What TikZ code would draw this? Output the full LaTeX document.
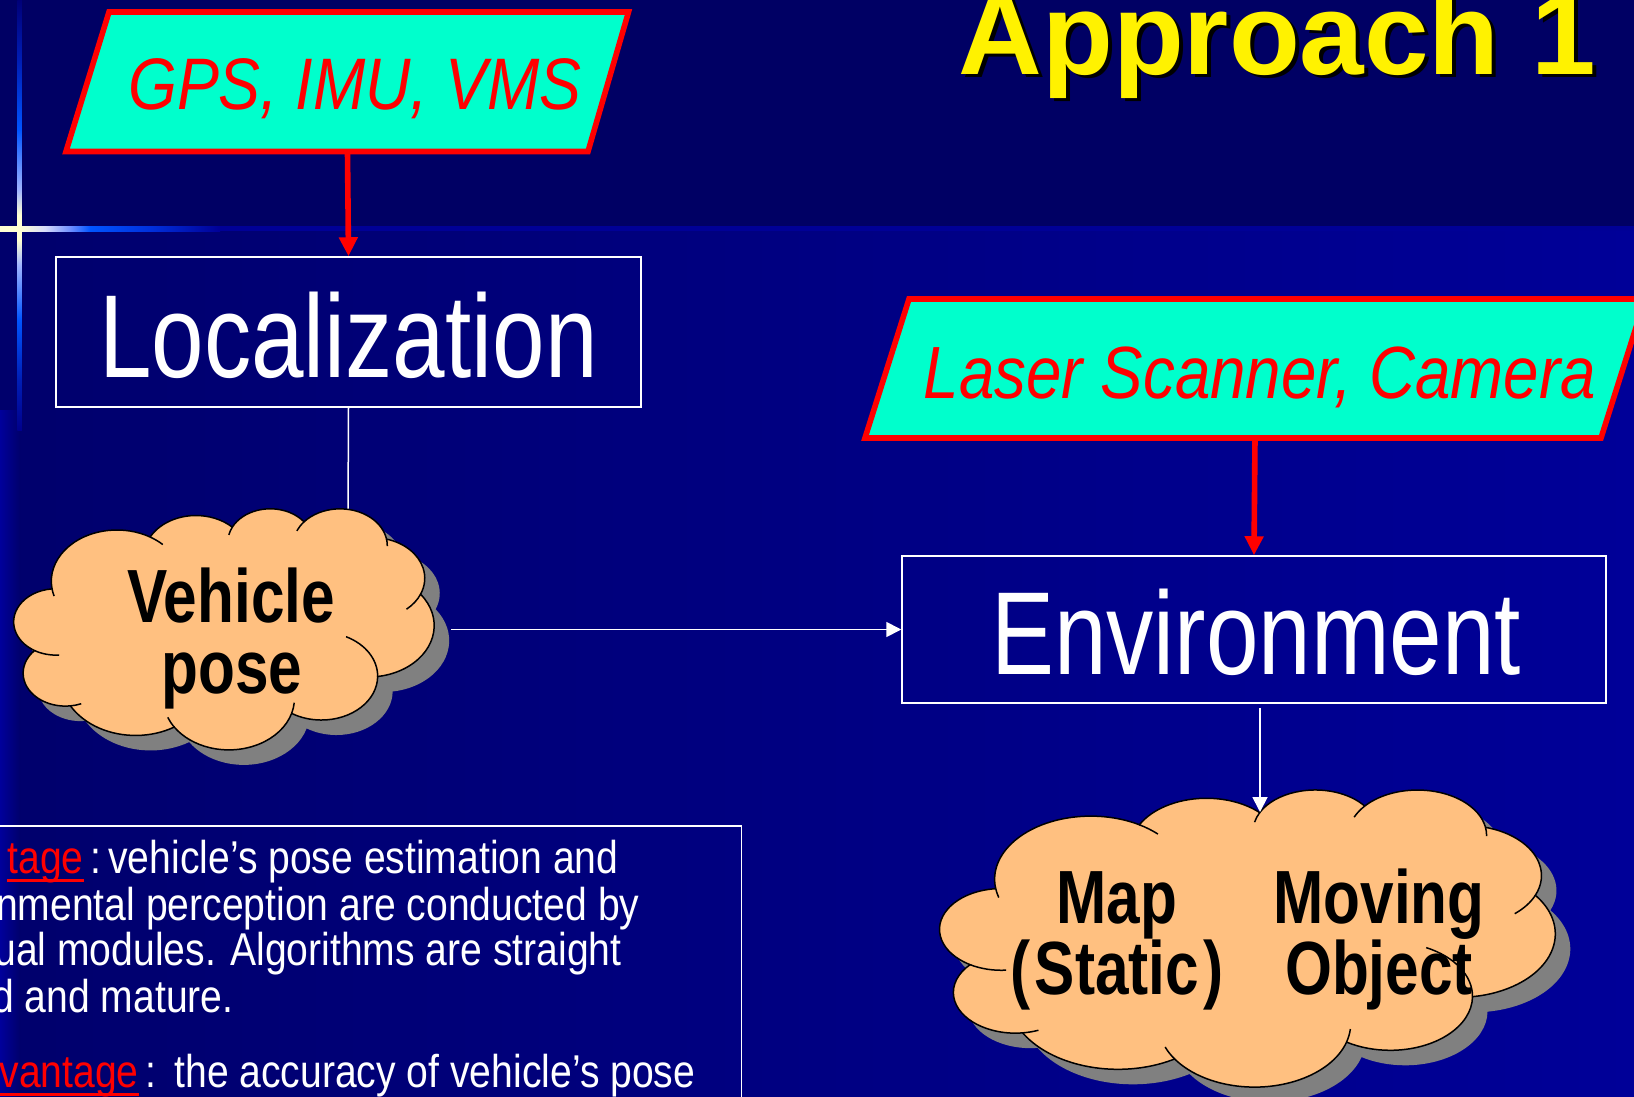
\documentclass[tikz,border=0pt]{standalone}
\usepackage{fontspec}
\setmainfont{Liberation Sans}
\newfontfamily\fnBox{Liberation Sans}[FakeStretch=0.80]
\newfontfamily\fnIt{Liberation Sans}[FakeStretch=0.86]
\newfontfamily\fnCloud{Liberation Sans}[FakeStretch=0.80]
\newfontfamily\fnNar{Liberation Sans}[FakeStretch=0.85]
\usetikzlibrary{arrows.meta}

\definecolor{bgtop}{RGB}{0,0,100}
\definecolor{bgleft}{RGB}{0,0,108}
\definecolor{bgright}{RGB}{0,0,152}
\definecolor{stripblue}{RGB}{0,0,155}
\definecolor{faintline}{RGB}{0,0,150}
\definecolor{aqua}{RGB}{0,255,204}
\definecolor{cloudfill}{RGB}{255,192,128}
\definecolor{shadowgray}{RGB}{128,128,128}
\definecolor{glowyel}{RGB}{255,255,210}
\definecolor{glowpale}{RGB}{215,220,250}
\definecolor{glowlb}{RGB}{112,144,255}
\definecolor{glowbb}{RGB}{0,85,255}
\definecolor{glowmb}{RGB}{0,48,220}
\definecolor{glowend}{RGB}{0,0,150}
\definecolor{vdark}{RGB}{0,0,140}
\definecolor{vdarktop}{RGB}{0,0,120}
\definecolor{vmid}{RGB}{0,30,180}
\definecolor{vlb}{RGB}{160,180,255}

\pgfdeclarehorizontalshading{hglow}{100bp}{color(0bp)=(glowyel); color(29.5bp)=(glowyel); color(35.2bp)=(glowpale); color(40.9bp)=(glowlb); color(45.5bp)=(glowbb); color(59.1bp)=(glowmb); color(75bp)=(glowend); color(100bp)=(glowend)}
\pgfdeclareverticalshading{vglow}{100bp}{color(0bp)=(vdark); color(25bp)=(vdark); color(30.8bp)=(vmid); color(37.8bp)=(glowbb); color(44.2bp)=(vlb); color(47.1bp)=(glowyel); color(50bp)=(glowyel); color(52.9bp)=(vlb); color(59.9bp)=(glowbb); color(68bp)=(vmid); color(75bp)=(vdarktop); color(100bp)=(vdarktop)}

\newsavebox\ulbox
\newcommand\redul[1]{\sbox\ulbox{#1}\rlap{\rule[-4.3pt]{\wd\ulbox}{1.3pt}}\usebox\ulbox}

\tikzset{
 cloudpath/.style={insert path={(39,143.7)
  arc[start angle=-187.745,end angle=-59.63,x radius=67.53,y radius=91.90]
  arc[start angle=-152.02,end angle=-45.45,x radius=53.33,y radius=72.67]
  arc[start angle=-153.49,end angle=-37.33,x radius=43.65,y radius=59.45]
  arc[start angle=-139.72,end angle=-10.21,x radius=48.57,y radius=65.95]
  arc[start angle=-74.77,end angle=23.21,x radius=53.33,y radius=72.73]
  arc[start angle=-37.53,end angle=81.86,x radius=67.75,y radius=92.20]
  arc[start angle=0.46,end angle=121.97,x radius=57.85,y radius=78.67]
  arc[start angle=16.84,end angle=146.24,x radius=67.52,y radius=92.15]
  arc[start angle=58.99,end angle=150.19,x radius=77.20,y radius=105.43]
  arc[start angle=-276.69,end angle=-136.90,x radius=43.60,y radius=59.18]
  arc[start angle=-239.64,end angle=-95.89,x radius=43.45,y radius=59.45]
  -- cycle}},
 cloudinner/.style={insert path={
  (43.09,204.23) ++(85.54:43.45 and 59.45) arc[start angle=85.54,end angle=120.36,x radius=43.45,y radius=59.45]
  (52.98,295.94) ++(68.23:43.60 and 59.18) arc[start angle=68.23,end angle=83.31,x radius=43.60,y radius=59.18]
  (220.95,341.46) ++(146.24:67.52 and 92.15) arc[start angle=146.24,end angle=158.47,x radius=67.52,y radius=92.15]
  (220.95,341.46) ++(4.73:67.52 and 92.15) arc[start angle=4.73,end angle=16.84,x radius=67.52,y radius=92.15]
  (316.20,301.42) ++(-64.03:57.85 and 78.67) arc[start angle=-64.03,end angle=0.46,x radius=57.85,y radius=78.67]
  (369.18,125.96) ++(23.21:53.33 and 72.73) arc[start angle=23.21,end angle=49.65,x radius=53.33,y radius=72.73]
  (335.39,67.47) ++(-10.21:48.57 and 65.95) arc[start angle=-10.21,end angle=0.82,x radius=48.57,y radius=65.95]
  (335.39,67.47) ++(-156.30:48.57 and 65.95) arc[start angle=-156.30,end angle=-139.72,x radius=48.57,y radius=65.95]
  (263.63,60.88) ++(-167.72:43.65 and 59.45) arc[start angle=-167.72,end angle=-153.49,x radius=43.65,y radius=59.45]
  (105.91,131.32) ++(-59.63:67.53 and 91.90) arc[start angle=-59.63,end angle=-45.74,x radius=67.53,y radius=91.90]
  (105.91,131.32) ++(163.19:67.53 and 91.90) arc[start angle=163.19,end angle=172.26,x radius=67.53,y radius=91.90]
 }},
 cloudline/.style={draw=black, line width=0.75pt},
 whitebox/.style={draw=white, line width=0.75pt, inner sep=0},
 redarrow/.style={draw=red, line width=2.8pt, -{Triangle[length=9.5pt,width=9pt]}},
 whitearrow/.style={draw=white, line width=0.9pt, -{Triangle[length=7.5pt,width=7.5pt]}},
 inputshape/.style={fill=aqua, draw=red, line width=2.8pt, line join=miter},
 boxlabel/.style={anchor=base, inner sep=0, text=white, font=\fnBox\fontsize{59pt}{59pt}\selectfont},
 inputlabel/.style={anchor=base, inner sep=0, text=red},
 cloudlabel/.style={anchor=base, inner sep=0, text=black, font=\fnCloud\bfseries\fontsize{37.7pt}{37.7pt}\selectfont},
 bodytext/.style={inner sep=0, text=white, font=\fnNar\fontsize{23pt}{23pt}\selectfont},
 titletext/.style={anchor=base west, inner sep=0, font=\bfseries\fontsize{58pt}{58pt}\selectfont}
}

\begin{document}
\begin{tikzpicture}[x=0.5pt, y=-0.5pt]
\useasboundingbox (0,0) rectangle (1634,1097);
\clip (0,0) rectangle (1634,1097);

% background
\fill[bgtop] (0,0) rectangle (1634,229);
\shade[left color=bgleft, right color=bgright] (0,229) rectangle (1634,1097);
\shade[left color=stripblue, right color=bgleft] (0,410) rectangle (20,1097);
\fill[faintline] (0,226) rectangle (1634,231);
\shade[shading=hglow] (0,226) rectangle (220,231);
\shade[shading=vglow] (17.3,0) rectangle (21.8,430);

% title
\node[titletext, text=black] (titleshadow) at (962,78) {Approach 1};
\node[titletext, text=yellow] (title) at (958,75) {Approach 1};

% boxes
\node[whitebox, minimum width=292.5pt, minimum height=75pt] (loc) at (348.5,332) {};
\node[whitebox, minimum width=352pt, minimum height=73.5pt] (env) at (1254,629.5) {};
\node[boxlabel] (loclabel) at (348.5,377) {Localization};
\node[boxlabel] (envlabel) at (1256,674) {Environment};

% input parallelograms
\node[inner sep=0, minimum width=200pt, minimum height=69.75pt] (gps) at (347.5,81.75) {};
\node[inner sep=0, minimum width=300pt, minimum height=69.5pt] (laser) at (1255,368.5) {};
\draw[redarrow] (gps.south) -- (loc.north);
\draw[redarrow] (laser.south) -- (env.north);
\filldraw[inputshape] (109,12) -- (628.5,12) -- (588,151.5) -- (66,151.5) -- cycle;
\filldraw[inputshape] (909,299) -- (1645,299) -- (1601,438) -- (865,438) -- cycle;
\node[inputlabel, font=\fnIt\itshape\fontsize{36.5pt}{36.5pt}\selectfont] (gpslabel) at (355,110) {GPS, IMU, VMS};
\node[inputlabel, font=\fnIt\itshape\fontsize{37pt}{37pt}\selectfont] (laserlabel) at (1260,398) {Laser Scanner, Camera};

% connector localization -> vehicle pose
\coordinate (vptop) at (348,515);
\draw[white, line width=0.75pt] (loc.south) -- (vptop);

% vehicle pose cloud
\begin{scope}[shift={(14.5pt,-261.5pt)}, x=0.48611pt, y=-0.278935pt]
  \fill[shadowgray, cloudpath];
\end{scope}
\begin{scope}[shift={(7pt,-254pt)}, x=0.48611pt, y=-0.278935pt]
  \filldraw[fill=cloudfill, cloudline, cloudpath];
  \draw[cloudline, cloudinner];
\end{scope}
\node[cloudlabel] (vp1) at (231,622) {Vehicle};
\node[cloudlabel] (vp2) at (232,693) {pose};

% map / moving object cloud
\begin{scope}[shift={(477.5pt,-402pt)}, x=0.71181pt, y=-0.34375pt]
  \fill[shadowgray, cloudpath];
\end{scope}
\begin{scope}[shift={(470pt,-394.5pt)}, x=0.71181pt, y=-0.34375pt]
  \filldraw[fill=cloudfill, cloudline, cloudpath];
  \draw[cloudline, cloudinner];
\end{scope}
\node[cloudlabel] (mp1) at (1117,923) {Map};
\node[cloudlabel] (mp2) at (1117,994) {(\hspace{2pt}Static\hspace{2pt})};
\node[cloudlabel] (mo1) at (1379,923) {Moving};
\node[cloudlabel] (mo2) at (1379,994) {Object};

% white arrows
\coordinate (vpe) at (451,629.5);
\coordinate (maptop) at (1260,812);
\draw[whitearrow] (vpe) -- (env.west);
\draw[whitearrow, shorten <=2pt] (env.south -| maptop) -- (maptop);

% bottom text box
\draw[white, line width=0.75pt] (-10,1110) |- (741.5,826) -- (741.5,1110);
\node[bodytext, anchor=base east, text=red] (b1a) at (84,873) {\redul{tage}};
\node[bodytext, anchor=base west] (b1b) at (90,873) {:};
\node[bodytext, anchor=base west] (b1c) at (108,873) {vehicle’s pose estimation and};
\node[bodytext, anchor=base east] (b2) at (640,920) {nmental perception are conducted by};
\node[bodytext, anchor=base east] (b3) at (622,965) {ual modules. Algorithms are straight};
\node[bodytext, anchor=base east] (b4) at (234,1012) {d and mature.};
\node[bodytext, anchor=base east, text=red] (b5a) at (139,1087) {\redul{vantage}};
\node[bodytext, anchor=base west] (b5b) at (145,1087) {:};
\node[bodytext, anchor=base west] (b5c) at (174,1087) {the accuracy of vehicle’s pose};
\end{tikzpicture}
\end{document}
